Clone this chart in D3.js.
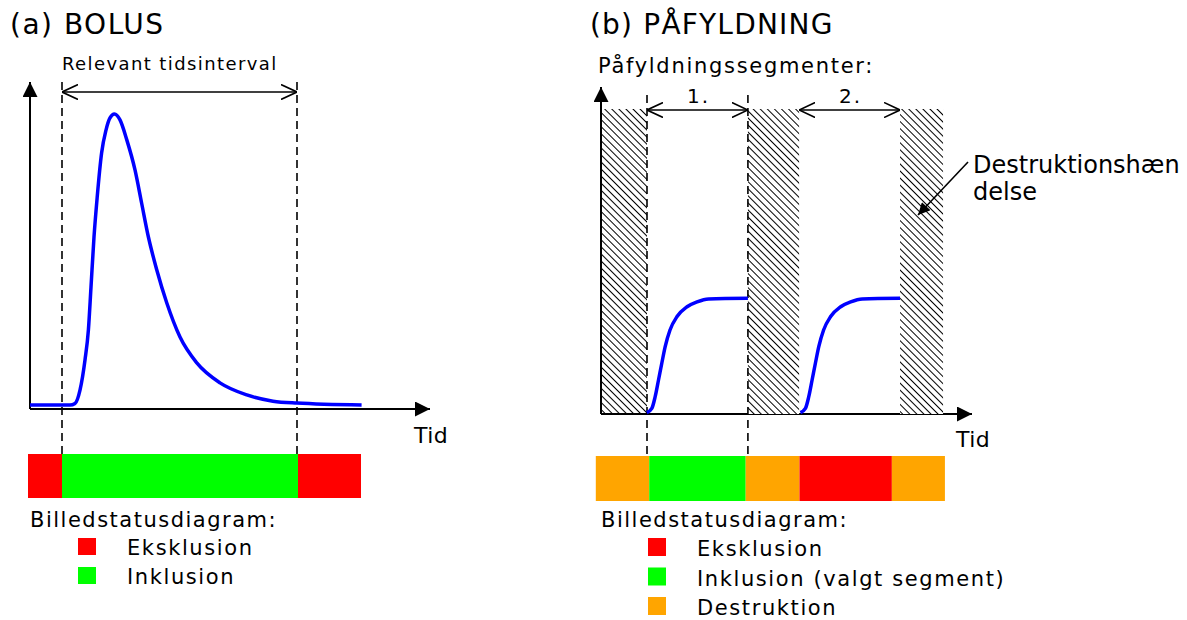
<!DOCTYPE html>
<html>
<head>
<meta charset="utf-8">
<style>
  body { margin: 0; background: #fff; }
  svg { display: block; font-family: "DejaVu Sans", Verdana, sans-serif; }
</style>
</head>
<body>
<div id="viz_area"></div>
<script src="https://cdn.jsdelivr.net/npm/d3@7"></script>
<script>
// ---------- data ----------
// (a) bolus curve: time (0-100) and signal (0-100)
var bolusTime  = [0, 10, 11.25, 12.5, 13.75, 14.6, 15.25, 16, 16.8, 17.9, 19, 20, 21.1, 22.5, 24.2, 26.25, 27.9, 29.6, 31.7, 34.2, 37.5, 41.7, 47.5, 54.2, 60.75, 66.7, 82.9];
var bolusValue = [1.2, 1.2, 1.7, 5.8, 15, 24.2, 37.3, 52.6, 64.8, 78.3, 85.3, 89, 90.2, 88.4, 82.3, 73.1, 63, 52.6, 42.5, 32.4, 22, 14.1, 8, 4.3, 2.4, 1.8, 1.2];
var bolusInterval = [8, 66.75];          // relevant tidsinterval
var bolusStatus = [                       // [start, end, state]
  [-0.5, 8, "Eksklusion"], [8, 67, "Inklusion"], [67, 82.75, "Eksklusion"]
];
var bolusLegend = ["Eksklusion", "Inklusion"];

// (b) refill: two segments
var seg1Time  = [12.35, 13.7, 14.6, 15.5, 16.4, 17.3, 18.6, 20.5, 23.2, 25.9, 29, 39.6];
var seg2Time  = [53.75, 55.1, 56.0, 56.9, 57.8, 58.7, 60.0, 61.9, 64.6, 67.3, 70.4, 80.6];
var segValue  = [0.4, 1.7, 5.3, 10.4, 15.6, 20.6, 25.7, 29.8, 32.8, 34.3, 35.2, 35.4];
var destructionSpans = [[0, 12.4], [39.6, 53.4], [80.6, 92.2]];
var segmentSpans = [[12.4, 39.6, "1."], [53.4, 80.6, "2."]];
var selectedSpan = [12.4, 39.6];
var refillStatus = [
  [-1.4, 13, "Destruktion"], [13, 39, "Inklusion"], [39, 53.5, "Destruktion"],
  [53.5, 78.4, "Eksklusion"], [78.4, 92.7, "Destruktion"]
];
var refillLegend = ["Eksklusion", "Inklusion (valgt segment)", "Destruktion"];

var stateColor = { "Eksklusion": "#ff0000", "Inklusion": "#00ff00", "Inklusion (valgt segment)": "#00ff00", "Destruktion": "#ffa500" };

// ---------- svg ----------
var W = 1187, H = 620;
var svg = d3.select("#viz_area").append("svg").attr("width", W).attr("height", H);

var defs = svg.append("defs");
// filled arrow head
defs.append("marker").attr("id", "fillArrow")
  .attr("viewBox", "0 0 10 10").attr("refX", 10).attr("refY", 5)
  .attr("markerWidth", 15).attr("markerHeight", 15).attr("markerUnits", "userSpaceOnUse")
  .attr("orient", "auto")
  .append("path").attr("d", "M0,0 L10,5 L0,10 Z").attr("fill", "#000");
// smaller filled arrow for annotation
defs.append("marker").attr("id", "fillArrowSmall")
  .attr("viewBox", "0 0 10 10").attr("refX", 10).attr("refY", 5)
  .attr("markerWidth", 13).attr("markerHeight", 12).attr("markerUnits", "userSpaceOnUse")
  .attr("orient", "auto")
  .append("path").attr("d", "M0,0 L10,5 L0,10 Z").attr("fill", "#000");
// open V arrow head
defs.append("marker").attr("id", "openArrow")
  .attr("viewBox", "0 0 16 16").attr("refX", 16).attr("refY", 8)
  .attr("markerWidth", 16).attr("markerHeight", 16).attr("markerUnits", "userSpaceOnUse")
  .attr("orient", "auto-start-reverse")
  .append("path").attr("d", "M0,0.5 L16,8 L0,15.5").attr("fill", "none")
  .attr("stroke", "#000").attr("stroke-width", 1.6);
// hatch pattern, lines running top-left to bottom-right
var pat = defs.append("pattern").attr("id", "hatch")
  .attr("patternUnits", "userSpaceOnUse").attr("width", 5).attr("height", 5)
  .attr("patternTransform", "rotate(-45)");
pat.append("rect").attr("width", 5).attr("height", 5).attr("fill", "#fff");
pat.append("line").attr("x1", 0).attr("y1", 0).attr("x2", 0).attr("y2", 5)
  .attr("stroke", "#000").attr("stroke-width", 2);

function txt(x, y, s, size, spacing) {
  return svg.append("text").attr("x", x).attr("y", y).attr("font-size", size)
    .attr("letter-spacing", spacing || 0).attr("fill", "#000").text(s);
}

// ---------- (a) BOLUS ----------
var xa = d3.scaleLinear().domain([0, 100]).range([30, 430]);
var ya = d3.scaleLinear().domain([0, 100]).range([409, 82]);

txt(10, 34, "(a) BOLUS", 28, 1.5);
txt(62, 70, "Relevant tidsinterval", 18, 1.4);

// axes
svg.append("line").attr("x1", xa(0)).attr("y1", ya(0)).attr("x2", xa(0)).attr("y2", ya(100))
  .attr("stroke", "#000").attr("stroke-width", 2).attr("marker-end", "url(#fillArrow)");
svg.append("line").attr("x1", xa(0)).attr("y1", ya(0)).attr("x2", xa(100)).attr("y2", ya(0))
  .attr("stroke", "#000").attr("stroke-width", 2).attr("marker-end", "url(#fillArrow)");
txt(414, 443, "Tid", 22, 0.5);

// status bar
svg.selectAll("rect.sa").data(bolusStatus).join("rect").attr("class", "sa")
  .attr("x", d => xa(d[0])).attr("width", d => xa(d[1]) - xa(d[0]))
  .attr("y", 454).attr("height", 44).attr("fill", d => stateColor[d[2]]);

// dashed interval lines
svg.selectAll("line.da").data(bolusInterval).join("line").attr("class", "da")
  .attr("x1", d => xa(d)).attr("x2", d => xa(d)).attr("y1", 82).attr("y2", 454)
  .attr("stroke", "#000").attr("stroke-width", 1.6).attr("stroke-dasharray", "8,5");

// double arrow
svg.append("line").attr("x1", xa(bolusInterval[0])).attr("x2", xa(bolusInterval[1]))
  .attr("y1", 92).attr("y2", 92).attr("stroke", "#000").attr("stroke-width", 1.6)
  .attr("marker-start", "url(#openArrow)").attr("marker-end", "url(#openArrow)");

// curve
var lineA = d3.line().x(d => xa(d[0])).y(d => ya(d[1])).curve(d3.curveMonotoneX);
svg.append("path").datum(d3.zip(bolusTime, bolusValue)).attr("d", lineA)
  .attr("fill", "none").attr("stroke", "#0000ff").attr("stroke-width", 3.5);

// legend
txt(30, 527, "Billedstatusdiagram:", 21, 1.5);
bolusLegend.forEach(function (s, i) {
  svg.append("rect").attr("x", 78).attr("y", 538 + i * 29).attr("width", 18).attr("height", 17)
    .attr("fill", stateColor[s]);
  txt(127, 555 + i * 29, s, 21, 1.6);
});

// ---------- (b) PÅFYLDNING ----------
var xb = d3.scaleLinear().domain([0, 100]).range([601, 972]);
var yb = d3.scaleLinear().domain([0, 100]).range([414, 87]);

txt(590, 34, "(b) PÅFYLDNING", 28, 1.2);
txt(598, 73, "Påfyldningssegmenter:", 21, 1.7);

var hatch = svg.selectAll("rect.hb").data(destructionSpans).join("rect").attr("class", "hb")
  .attr("x", d => xb(d[0])).attr("width", d => xb(d[1]) - xb(d[0]))
  .attr("y", 109).attr("height", yb(0) - 109).attr("fill", "url(#hatch)");

svg.append("line").attr("x1", xb(0)).attr("y1", yb(0)).attr("x2", xb(0)).attr("y2", yb(100))
  .attr("stroke", "#000").attr("stroke-width", 2).attr("marker-end", "url(#fillArrow)");
svg.append("line").attr("x1", xb(0)).attr("y1", yb(0)).attr("x2", xb(100)).attr("y2", yb(0))
  .attr("stroke", "#000").attr("stroke-width", 2).attr("marker-end", "url(#fillArrow)");
hatch.filter((d, i) => i > 0).raise();
txt(956, 447, "Tid", 22, 0.5);

// status bar
svg.selectAll("rect.sb").data(refillStatus).join("rect").attr("class", "sb")
  .attr("x", d => xb(d[0])).attr("width", d => xb(d[1]) - xb(d[0]))
  .attr("y", 456).attr("height", 45).attr("fill", d => stateColor[d[2]]);

// dashed lines for selected segment
svg.selectAll("line.db").data(selectedSpan).join("line").attr("class", "db")
  .attr("x1", d => xb(d)).attr("x2", d => xb(d)).attr("y1", 95).attr("y2", 456)
  .attr("stroke", "#000").attr("stroke-width", 1.6).attr("stroke-dasharray", "8,5");

// segment arrows
svg.selectAll("line.ab").data(segmentSpans).join("line").attr("class", "ab")
  .attr("x1", d => xb(d[0])).attr("x2", d => xb(d[1])).attr("y1", 110).attr("y2", 110)
  .attr("stroke", "#000").attr("stroke-width", 1.6)
  .attr("marker-start", "url(#openArrow)").attr("marker-end", "url(#openArrow)");
svg.selectAll("text.lb").data(segmentSpans).join("text").attr("class", "lb")
  .attr("x", d => (xb(d[0]) + xb(d[1])) / 2 + 1).attr("y", 103).attr("text-anchor", "middle")
  .attr("font-size", 20).attr("letter-spacing", 2).text(d => d[2]);

// curves
var lineB = d3.line().x(d => xb(d[0])).y(d => yb(d[1])).curve(d3.curveMonotoneX);
[seg1Time, seg2Time].forEach(function (t) {
  svg.append("path").datum(d3.zip(t, segValue)).attr("d", lineB)
    .attr("fill", "none").attr("stroke", "#0000ff").attr("stroke-width", 3.5);
});

// annotation
txt(973, 173, "Destruktionshæn", 24, 0);
txt(973, 200, "delse", 24, 0);
svg.append("line").attr("x1", 968).attr("y1", 162).attr("x2", 918).attr("y2", 215)
  .attr("stroke", "#000").attr("stroke-width", 1.6).attr("marker-end", "url(#fillArrowSmall)");

// legend
txt(601, 527, "Billedstatusdiagram:", 21, 1.5);
refillLegend.forEach(function (s, i) {
  svg.append("rect").attr("x", 648).attr("y", 538 + i * 29.5).attr("width", 18).attr("height", 18)
    .attr("fill", stateColor[s]);
  txt(697, 556 + i * 29.5, s, 21, 1.6);
});
</script>
</body>
</html>
